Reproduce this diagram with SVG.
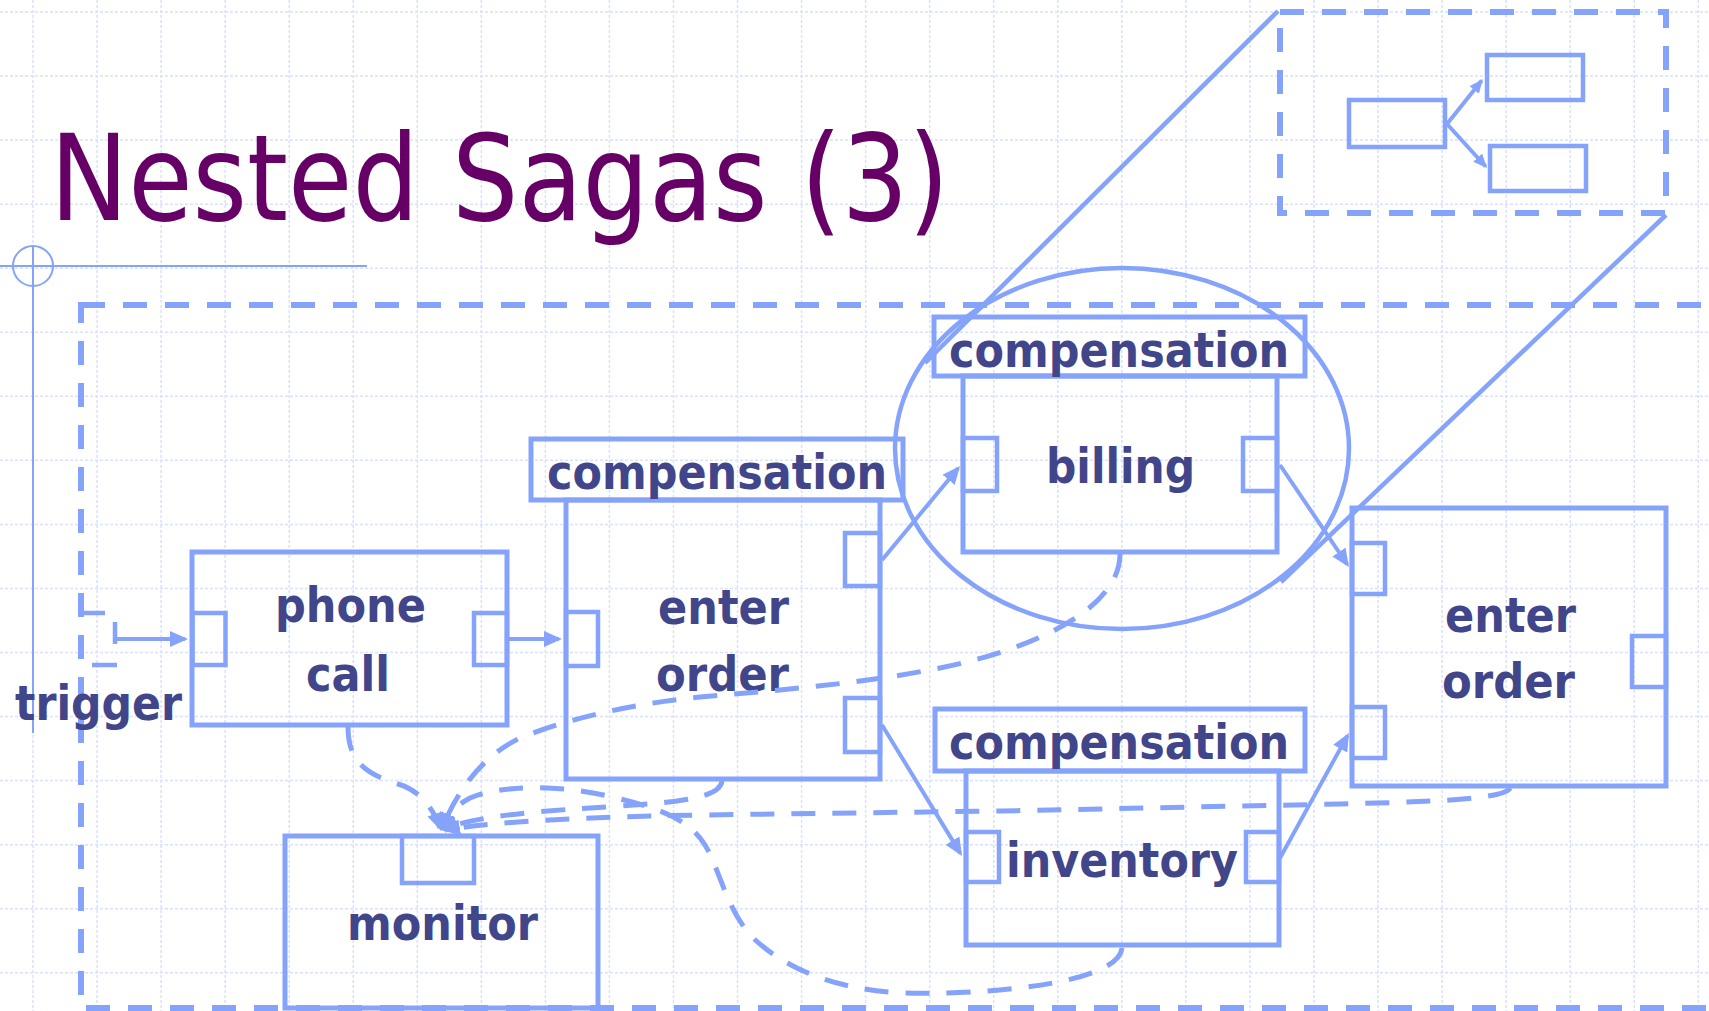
<svg xmlns="http://www.w3.org/2000/svg" width="1709" height="1011" viewBox="0 0 1709 1011">
  <style>
    .grid { stroke: #d9e1fc; stroke-width: 1.5; stroke-dasharray: 3 2; fill: none; }
    .deco { stroke: #85a3fb; stroke-width: 2; fill: none; }
    .box { stroke: #85a3fb; stroke-width: 5; fill: none; }
    .port { stroke: #85a3fb; stroke-width: 4.5; fill: none; }
    .scope { stroke: #85a3fb; stroke-width: 6; fill: none; stroke-dasharray: 24 18; }
    .flow { stroke: #85a3fb; stroke-width: 4; fill: none; }
    .dflow { stroke: #85a3fb; stroke-width: 5; fill: none; stroke-dasharray: 24 17; }
    .lens { stroke: #85a3fb; stroke-width: 4.5; fill: none; }
    .title { font-family: "DejaVu Sans", Verdana, sans-serif; font-size: 120px; fill: #660066; }
    .lbl { font-family: "DejaVu Sans", Verdana, sans-serif; font-weight: bold; font-size: 48px; fill: #414589; }
  </style>
  <defs>
    <marker id="arr" markerUnits="userSpaceOnUse" markerWidth="18" markerHeight="16" refX="15" refY="8" orient="auto">
      <path d="M0,0 L18,8 L0,16 z" fill="#85a3fb"/>
    </marker>
    <marker id="arr-s" markerUnits="userSpaceOnUse" markerWidth="14" markerHeight="12" refX="12" refY="6" orient="auto">
      <path d="M0,0 L14,6 L0,12 z" fill="#85a3fb"/>
    </marker>
  </defs>

  <rect width="1709" height="1011" fill="#ffffff"/>

  <!-- background grid -->
  <path class="grid" d="M33,0V1011M97.05,0V1011M161.1,0V1011M225.15,0V1011M289.2,0V1011M353.25,0V1011M417.3,0V1011M481.35,0V1011M545.4,0V1011M609.45,0V1011M673.5,0V1011M737.55,0V1011M801.6,0V1011M865.65,0V1011M929.7,0V1011M993.75,0V1011M1057.8,0V1011M1121.85,0V1011M1185.9,0V1011M1249.95,0V1011M1314,0V1011M1378.05,0V1011M1442.1,0V1011M1506.15,0V1011M1570.2,0V1011M1634.25,0V1011M1698.3,0V1011
    M0,12H1709M0,76.05H1709M0,140.1H1709M0,204.15H1709M0,268.2H1709M0,332.25H1709M0,396.3H1709M0,460.35H1709M0,524.4H1709M0,588.45H1709M0,652.5H1709M0,716.55H1709M0,780.6H1709M0,844.65H1709M0,908.7H1709M0,972.75H1709"/>

  <!-- slide decoration -->
  <g id="decoration">
    <line class="deco" x1="33" y1="246" x2="33" y2="733"/>
    <line class="deco" x1="0" y1="266" x2="367" y2="266"/>
    <circle class="deco" cx="33" cy="266" r="20"/>
  </g>

  <g id="title">
    <text class="title" x="50" y="220" textLength="899" lengthAdjust="spacingAndGlyphs">Nested Sagas (3)</text>
  </g>

  <!-- outer saga scope -->
  <g id="saga-scope">
    <rect class="scope" x="81" y="305" width="1700" height="703"/>
  </g>

  <!-- magnified view of the nested saga -->
  <g id="inset">
    <rect class="scope" x="1280" y="12" width="386" height="201"/>
    <rect class="port" x="1349" y="100" width="96" height="47"/>
    <rect class="port" x="1487" y="55" width="96" height="45"/>
    <rect class="port" x="1490" y="146" width="96" height="45"/>
    <line class="flow" x1="1447" y1="124" x2="1481.7" y2="80.6" marker-end="url(#arr-s)"/>
    <line class="flow" x1="1447" y1="124" x2="1485.7" y2="166.5" marker-end="url(#arr-s)"/>
  </g>

  <g id="lens">
    <line class="lens" x1="1278" y1="11" x2="925" y2="363"/>
    <line class="lens" x1="1666" y1="215" x2="1281" y2="582"/>
    <ellipse class="lens" cx="1122" cy="448.5" rx="227" ry="180.5"/>
  </g>

  <g id="trigger">
    <line class="port" x1="78" y1="613" x2="105" y2="613"/>
    <line class="port" x1="92" y1="665" x2="117" y2="665"/>
    <line class="port" x1="115" y1="622" x2="115" y2="644"/>
    <text class="lbl" x="15" y="720" textLength="167" lengthAdjust="spacingAndGlyphs">trigger</text>
  </g>

  <g id="phone-call">
    <rect class="box" x="192" y="552" width="315" height="173"/>
    <rect class="port" x="192.5" y="613" width="33" height="52"/>
    <rect class="port" x="474" y="613" width="33" height="52"/>
    <text class="lbl" x="275" y="622" textLength="151" lengthAdjust="spacingAndGlyphs">phone</text>
    <text class="lbl" x="306" y="691" textLength="84" lengthAdjust="spacingAndGlyphs">call</text>
  </g>

  <g id="enter-order">
    <rect class="box" x="531" y="439" width="372" height="61"/>
    <rect class="box" x="566" y="500" width="314" height="279"/>
    <rect class="port" x="566" y="612" width="32" height="54"/>
    <rect class="port" x="845" y="533" width="35" height="53"/>
    <rect class="port" x="845" y="698" width="35" height="54"/>
    <text class="lbl" x="547" y="489" textLength="340" lengthAdjust="spacingAndGlyphs">compensation</text>
    <text class="lbl" x="658" y="624" textLength="131" lengthAdjust="spacingAndGlyphs">enter</text>
    <text class="lbl" x="656" y="691" textLength="133" lengthAdjust="spacingAndGlyphs">order</text>
  </g>

  <g id="billing">
    <rect class="box" x="934" y="317" width="371" height="59"/>
    <rect class="box" x="963" y="376" width="314" height="176"/>
    <rect class="port" x="963" y="438" width="34" height="53"/>
    <rect class="port" x="1243" y="438" width="34" height="53"/>
    <text class="lbl" x="949" y="367" textLength="340" lengthAdjust="spacingAndGlyphs">compensation</text>
    <text class="lbl" x="1046" y="483" textLength="149" lengthAdjust="spacingAndGlyphs">billing</text>
  </g>

  <g id="inventory">
    <rect class="box" x="935" y="709" width="370" height="62"/>
    <rect class="box" x="966" y="771" width="313" height="174"/>
    <rect class="port" x="966" y="832" width="33" height="50"/>
    <rect class="port" x="1246" y="832" width="33" height="50"/>
    <text class="lbl" x="949" y="759" textLength="340" lengthAdjust="spacingAndGlyphs">compensation</text>
    <text class="lbl" x="1006" y="877" textLength="232" lengthAdjust="spacingAndGlyphs">inventory</text>
  </g>

  <g id="enter-order-2">
    <rect class="box" x="1352" y="508" width="314" height="278"/>
    <rect class="port" x="1352" y="543" width="33" height="51"/>
    <rect class="port" x="1352" y="707" width="33" height="51"/>
    <rect class="port" x="1632" y="636" width="34" height="51"/>
    <text class="lbl" x="1445" y="632" textLength="131" lengthAdjust="spacingAndGlyphs">enter</text>
    <text class="lbl" x="1442" y="698" textLength="133" lengthAdjust="spacingAndGlyphs">order</text>
  </g>

  <g id="monitor">
    <rect class="box" x="285" y="836" width="313" height="172"/>
    <rect class="port" x="402" y="836" width="72" height="47"/>
    <text class="lbl" x="347" y="940" textLength="191" lengthAdjust="spacingAndGlyphs">monitor</text>
  </g>

  <g id="connectors">
    <!-- control flow -->
    <line class="flow" x1="117" y1="639" x2="185" y2="639" marker-end="url(#arr)"/>
    <line class="flow" x1="509" y1="639" x2="559" y2="639" marker-end="url(#arr)"/>
    <line class="flow" x1="882" y1="560" x2="958.1" y2="468.3" marker-end="url(#arr)"/>
    <line class="flow" x1="1280" y1="465" x2="1347.3" y2="564.5" marker-end="url(#arr)"/>
    <line class="flow" x1="882" y1="725" x2="960.4" y2="853.4" marker-end="url(#arr)"/>
    <line class="flow" x1="1280" y1="858" x2="1347.5" y2="735.6" marker-end="url(#arr)"/>
    <!-- events reported to the monitor -->
    <path class="dflow" d="M348,727 C348,765 370,775 398,784 C418,790 432,805 440,828" marker-end="url(#arr)"/>
    <path class="dflow" d="M1120,554 C1120,610 1030,650 940,668 C860,684 780,690 700,697 C620,705 560,722 520,738 C485,755 460,785 442,828" marker-end="url(#arr)"/>
    <path class="dflow" d="M722,781 C720,798 680,802 620,806 C540,811 480,815 443,829" marker-end="url(#arr)"/>
    <path class="dflow" d="M1510,788 C1505,800 1420,802 1340,804 L1000,811 L700,815 C580,817 490,822 445,830" marker-end="url(#arr)"/>
    <path class="dflow" d="M1122,948 C1118,985 980,995 905,993 C830,990 780,965 750,935 C725,905 720,870 705,845 C690,820 660,808 612,797 C560,784 500,785 470,798 C455,806 447,815 442,828" marker-end="url(#arr)"/>
  </g>
</svg>
